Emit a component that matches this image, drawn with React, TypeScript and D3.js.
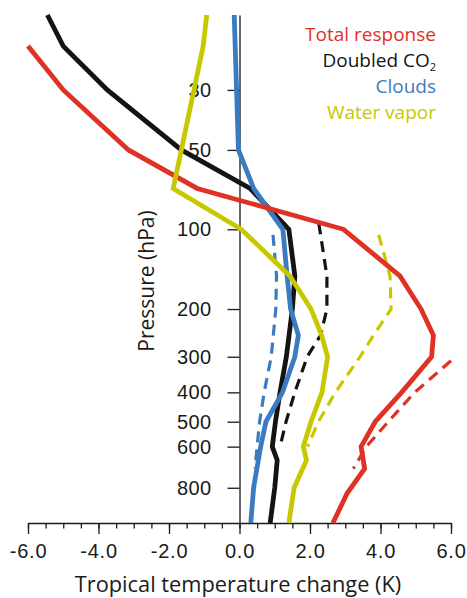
import React, { useEffect, useRef } from 'react';
import * as d3 from 'd3';

// pressure levels (hPa) and their height (km) in the tropical atmosphere, the y axis is height
const levelPressure = [15, 30, 50, 100, 200, 300, 400, 500, 600, 800, 1000];
const levelHeight = [28.54, 24.33, 20.96, 16.5, 12.02, 9.34, 7.34, 5.69, 4.29, 1.98, 0];

const pressureTicks = [30, 50, 100, 200, 300, 400, 500, 600, 800];
const tempTicks = [-6, -4, -2, 0, 2, 4, 6];

// Total response
const totalP = [20, 30, 50, 70, 100, 150, 200, 250, 300, 400, 500, 600, 700, 830, 1000];
const totalT = [-6.0, -5.0, -3.15, -1.2, 2.95, 4.55, 5.15, 5.5, 5.45, 4.6, 3.85, 3.45, 3.55, 3.05, 2.65];
const totalDashP = [310, 400, 500, 600, 700];
const totalDashT = [6.0, 4.97, 4.22, 3.6, 3.23];

// Doubled CO2
const co2P = [15, 20, 30, 50, 70, 100, 150, 200, 300, 400, 500, 600, 660, 800, 1000];
const co2T = [-5.45, -5.0, -3.75, -1.65, 0.3, 1.4, 1.57, 1.5, 1.33, 1.15, 1.02, 0.93, 1.07, 1.0, 0.87];
const co2DashP = [95, 150, 200, 250, 300, 400, 500, 600];
const co2DashT = [2.25, 2.48, 2.48, 2.3, 1.92, 1.57, 1.32, 1.15];

// Clouds
const cloudP = [15, 50, 70, 100, 150, 200, 250, 300, 400, 500, 600, 800, 1000];
const cloudT = [-0.15, -0.03, 0.4, 1.23, 1.35, 1.45, 1.67, 1.57, 1.22, 0.75, 0.6, 0.4, 0.32];
const cloudDashP = [105, 150, 200, 300, 400, 500, 600, 700];
const cloudDashT = [0.95, 1.05, 1.03, 0.9, 0.7, 0.57, 0.5, 0.44];

// Water vapor
const wvP = [15, 20, 70, 100, 150, 200, 250, 300, 400, 500, 600, 660, 800, 1000];
const wvT = [-0.93, -1.03, -1.88, 0.05, 1.43, 2.03, 2.33, 2.5, 2.34, 2.03, 1.81, 1.9, 1.55, 1.4];
const wvDashP = [105, 150, 200, 250, 300, 400, 500, 600];
const wvDashT = [3.95, 4.27, 4.3, 3.8, 3.42, 2.72, 2.24, 1.93];

const names = ['Total response', 'Doubled CO', 'Clouds', 'Water vapor'];
const colors = ['#df3124', '#141414', '#3b7cc0', '#c8c800'];

const zip = (p: number[], t: number[]) => p.map((v, i) => [v, t[i]] as [number, number]);

export default function App() {
  const ref = useRef<SVGSVGElement>(null);

  useEffect(() => {
    const svg = d3.select(ref.current);
    svg.selectAll('*').remove();

    const x = d3.scaleLinear().domain([-6, 6]).range([28, 451]);
    const km = d3.scaleLinear().domain([0, 28.54]).range([523, 15]);
    // piecewise log scale: pressure -> pixel through level heights
    const y = d3.scaleLog().domain(levelPressure).range(levelHeight.map(h => km(h)));

    const tickFont = 'Liberation Sans, Arial, sans-serif';
    const titleFont = "'Open Sans', sans-serif";

    // x axis, minor ticks every 0.5
    const xMinor = svg.append('g').attr('transform', 'translate(0,523)')
      .call(d3.axisBottom(x).tickValues(d3.range(-6, 6.01, 0.5)).tickSize(5.5).tickFormat(() => ''));
    xMinor.select('.domain').remove();
    const xMajor = svg.append('g').attr('transform', 'translate(0,523)')
      .call(d3.axisBottom(x).tickValues(tempTicks).tickSize(11).tickSizeOuter(0).tickPadding(10)
        .tickFormat(d => (+d).toFixed(1)));
    xMajor.selectAll('text').attr('font-family', tickFont).attr('font-size', 20).attr('letter-spacing', 0.8).attr('fill', '#1a1a1a');
    svg.selectAll('.domain, .tick line').attr('stroke', '#1a1a1a').attr('stroke-width', 1.3);

    // y axis at x = 0
    const yAxis = svg.append('g').attr('transform', `translate(${x(0)},0)`)
      .call(d3.axisLeft(y).tickValues(pressureTicks).tickSize(12).tickSizeOuter(0).tickPadding(16)
        .tickFormat(d => String(d)));
    yAxis.selectAll('text').attr('font-family', tickFont).attr('font-size', 20).attr('letter-spacing', 0.4).attr('fill', '#1a1a1a');
    yAxis.selectAll('.domain, .tick line').attr('stroke', '#1a1a1a').attr('stroke-width', 1.3);

    const line = d3.line<[number, number]>().x(d => x(d[1])).y(d => y(d[0]));

    const dashed = [
      { data: zip(cloudDashP, cloudDashT), c: colors[2] },
      { data: zip(co2DashP, co2DashT), c: colors[1] },
      { data: zip(wvDashP, wvDashT), c: colors[3] },
      { data: zip(totalDashP, totalDashT), c: colors[0] },
    ];
    dashed.forEach(s => {
      svg.append('path').attr('d', line(s.data)).attr('fill', 'none')
        .attr('stroke', s.c).attr('stroke-width', 3.2).attr('stroke-dasharray', '11,7');
    });

    const solid = [
      { data: zip(co2P, co2T), c: colors[1] },
      { data: zip(cloudP, cloudT), c: colors[2] },
      { data: zip(totalP, totalT), c: colors[0] },
      { data: zip(wvP, wvT), c: colors[3] },
    ];
    solid.forEach(s => {
      svg.append('path').attr('d', line(s.data)).attr('fill', 'none')
        .attr('stroke', s.c).attr('stroke-width', 4.8).attr('stroke-linejoin', 'miter');
    });

    // legend
    const leg = svg.append('g').attr('font-family', titleFont).attr('font-size', 19).attr('text-anchor', 'end');
    names.forEach((n, i) => {
      const t = leg.append('text').attr('x', 436).attr('y', 40.5 + i * 26).attr('fill', colors[i]).text(n);
      if (i === 1) t.append('tspan').attr('font-size', 11).attr('dy', 4).text('2');
    });

    svg.append('text').attr('x', 238).attr('y', 592).attr('text-anchor', 'middle')
      .attr('font-family', titleFont).attr('font-size', 21.8).attr('fill', '#1a1a1a')
      .text('Tropical temperature change (K)');
    svg.append('text').attr('transform', 'translate(154,281) rotate(-90)').attr('text-anchor', 'middle')
      .attr('font-family', titleFont).attr('font-size', 21).attr('fill', '#1a1a1a')
      .text('Pressure (hPa)');
  }, []);

  return <svg ref={ref} width={467} height={598} style={{ position: 'absolute', left: 0, top: 0 }} />;
}
